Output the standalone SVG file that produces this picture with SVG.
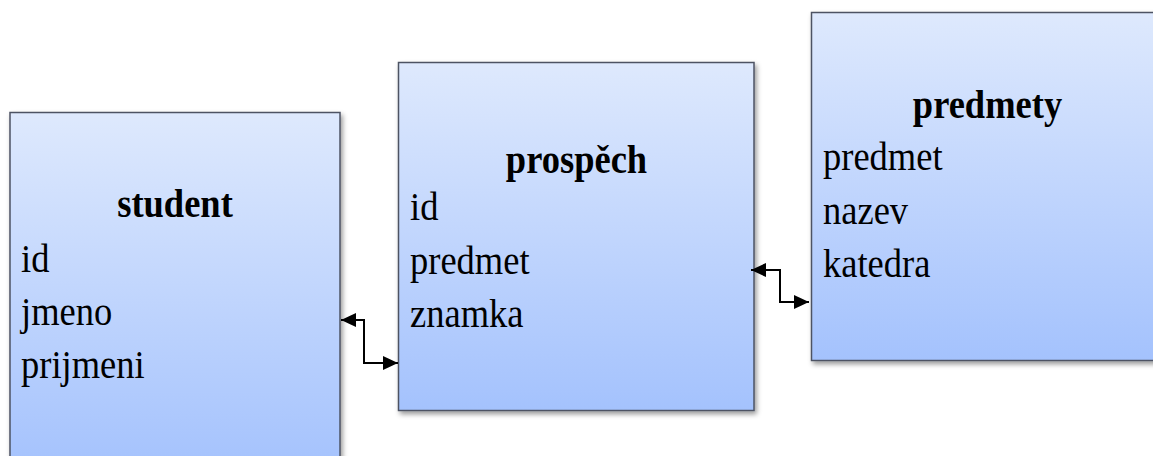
<svg xmlns="http://www.w3.org/2000/svg" width="1153" height="456" viewBox="0 0 1153 456">
<defs>
<linearGradient id="g" x1="0" y1="0" x2="0" y2="1">
<stop offset="0" stop-color="#dee9fd"/>
<stop offset="1" stop-color="#a4c2fd"/>
</linearGradient>
<filter id="sh" x="-10%" y="-10%" width="120%" height="120%">
<feDropShadow dx="2" dy="3" stdDeviation="2.5" flood-color="#000" flood-opacity="0.4"/>
</filter>
<marker id="ah" viewBox="0 0 15 14" refX="15" refY="7" markerWidth="15" markerHeight="14" markerUnits="userSpaceOnUse" orient="auto-start-reverse">
<path d="M0,0 L15,7 L0,14 Z" fill="#000"/>
</marker>
</defs>
<style>
.box{fill:url(#g);stroke:#4d5363;stroke-width:1.5;filter:url(#sh)}
.t{font-family:"Liberation Serif","Times New Roman",serif;font-size:36.5px;fill:#000}
.h{font-weight:bold;text-anchor:middle}
.c{fill:none;stroke:#000;stroke-width:2;marker-start:url(#ah);marker-end:url(#ah)}
</style>
<rect width="1153" height="456" fill="#fff"/>
<g id="student">
<rect class="box" x="10" y="112.5" width="330" height="360"/>
<text class="t h" transform="translate(175,217) scale(1,1.1)">student</text>
<text class="t" transform="translate(21,272) scale(1,1.1)">id</text>
<text class="t" transform="translate(21,325) scale(1,1.1)">jmeno</text>
<text class="t" transform="translate(21,378) scale(1,1.1)">prijmeni</text>
</g>
<g id="prospech">
<rect class="box" x="398.5" y="62.5" width="355.5" height="348"/>
<text class="t h" transform="translate(576.5,173) scale(1,1.1)">prospěch</text>
<text class="t" transform="translate(410,220) scale(1,1.1)">id</text>
<text class="t" transform="translate(410,274) scale(1,1.1)">predmet</text>
<text class="t" transform="translate(410,327) scale(1,1.1)">znamka</text>
</g>
<g id="predmety">
<rect class="box" x="811.5" y="12.5" width="353" height="348"/>
<text class="t h" transform="translate(987.5,118) scale(1,1.1)">predmety</text>
<text class="t" transform="translate(823,170) scale(1,1.1)">predmet</text>
<text class="t" transform="translate(823,224) scale(1,1.1)">nazev</text>
<text class="t" transform="translate(823,277) scale(1,1.1)">katedra</text>
</g>
<g id="connectors">
<path class="c" d="M341,320 H364 V363 H398"/>
<path class="c" d="M751,270 H780 V302 H809"/>
</g>
</svg>
